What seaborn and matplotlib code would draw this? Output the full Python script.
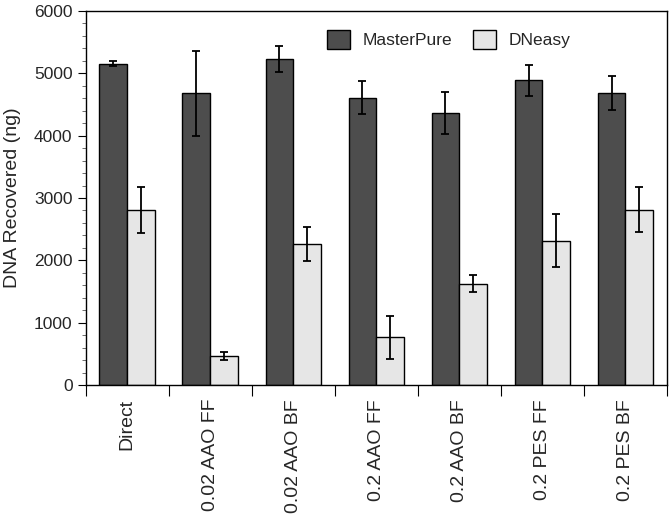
import numpy as np
import pandas as pd
import matplotlib
matplotlib.use("Agg")
import matplotlib.pyplot as plt
import seaborn as sns
from matplotlib.ticker import MultipleLocator

# values
categories = ['Direct', '0.02 AAO FF', '0.02 AAO BF', '0.2 AAO FF',
              '0.2 AAO BF', '0.2 PES FF', '0.2 PES BF']
methods = ['MasterPure', 'DNeasy']
masterpure = [5150, 4680, 5225, 4610, 4365, 4890, 4685]
masterpure_err = [40, 680, 210, 260, 340, 250, 275]
dneasy = [2810, 465, 2265, 765, 1625, 2315, 2815]
dneasy_err = [370, 64, 270, 350, 140, 430, 355]

df = pd.DataFrame({
    'Kategori': categories * 2,
    'Yontem': [methods[0]] * len(categories) + [methods[1]] * len(categories),
    'DNA': masterpure + dneasy,
    'Hata': masterpure_err + dneasy_err,
})

sns.set_style('ticks')
plt.rcParams['font.family'] = ['Liberation Sans', 'DejaVu Sans']

fig = plt.figure(figsize=(6.7, 5.21), dpi=100)
ax = fig.add_axes([0.128, 0.261, 0.8675, 0.718])

palette = {'MasterPure': '#4d4d4d', 'DNeasy': '#e6e6e6'}
sns.barplot(data=df, x='Kategori', y='DNA', hue='Yontem', hue_order=methods,
            palette=palette, width=0.67, edgecolor='black', linewidth=1,
            saturation=1, errorbar=None, ax=ax)

# hata çubukları: seaborn'un çizdiği çubukların merkezlerinden
for cont, meth in zip(ax.containers, methods):
    sub = df[df['Yontem'] == meth]
    xs = [p.get_x() + p.get_width() / 2 for p in cont.patches]
    ax.errorbar(xs, sub['DNA'].values, yerr=sub['Hata'].values, fmt='none',
                ecolor='black', elinewidth=1.3, capsize=2.7, capthick=1.3)

ax.set_xlim(-0.5, len(categories) - 0.5)
ax.set_ylim(0, 6000)
ax.yaxis.set_major_locator(MultipleLocator(1000))
ax.yaxis.set_minor_locator(MultipleLocator(200))
ax.set_xticks(np.arange(len(categories) + 1) - 0.5, minor=False)
ax.set_xticklabels([])
ax.set_xticks(np.arange(len(categories)), minor=True)
ax.set_xticklabels(categories, minor=True, rotation=90, fontsize=14)
ax.tick_params(axis='x', which='minor', length=0, pad=10)
ax.tick_params(axis='x', which='major', length=8, direction='out', color='black')
ax.tick_params(axis='y', which='major', length=6, labelsize=12.5, color='black')
ax.tick_params(axis='y', which='minor', length=3, color='#555555')

for sp in ax.spines.values():
    sp.set_visible(True)
    sp.set_linewidth(1)
    sp.set_color('black')

ax.set_xlabel('')
ax.set_ylabel('DNA Recovered (ng)', fontsize=14, labelpad=9)

ax.legend(title=None, ncol=2, frameon=False, fontsize=12.5,
          loc='upper left', bbox_to_anchor=(0.415, 0.95),
          borderaxespad=0, borderpad=0,
          handlelength=1.3, handleheight=1.3, handletextpad=0.75,
          columnspacing=1.2)

fig.savefig('out.png', dpi=100)
